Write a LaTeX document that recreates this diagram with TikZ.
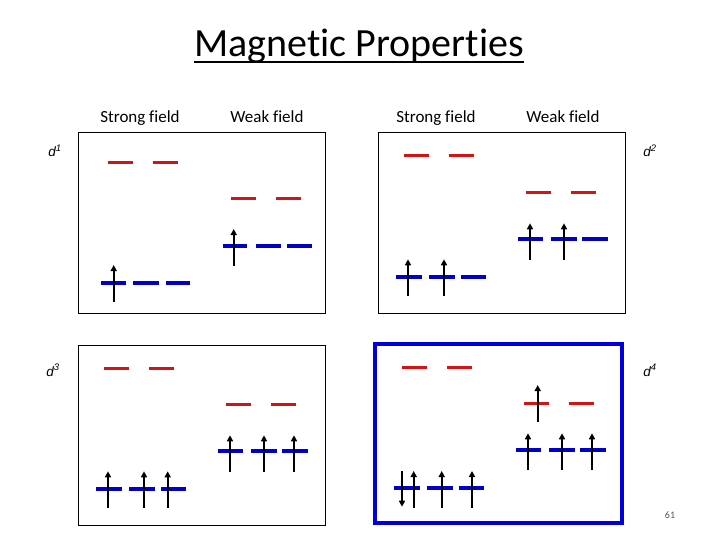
\documentclass[tikz,border=0pt]{standalone}
\usepackage{fontspec}
\setmainfont{Carlito}[Ligatures=NoCommon]
\newfontfamily\arialf{Liberation Sans}
\usetikzlibrary{arrows.meta,calc}
\tikzset{
  panel/.style={draw=black, line width=1pt},
  hipanel/.style={draw={rgb,255:red,0;green,0;blue,220}, line width=4pt},
  eg/.style={draw={rgb,255:red,210;green,20;blue,20}, line width=3pt},
  tg/.style={draw={rgb,255:red,0;green,0;blue,200}, line width=4pt},
  spin/.style={draw=black, line width=1.6pt, -{Triangle[length=6pt,width=6pt]}},
  hdr/.style={font=\fontsize{17}{20}\selectfont, anchor=base},
  dlab/.style={font=\arialf\itshape\fontsize{13.5}{15}\selectfont, anchor=base}
}
\begin{document}
\begin{tikzpicture}[x=1pt,y=-1pt]
\useasboundingbox (0,0) rectangle (720,540);
% title
\node[font=\fontsize{40}{44}\selectfont, anchor=base] (title) at (359,57) {Magnetic Properties};
\coordinate (ul1) at ($(title.base west)+(3,5)$);
\coordinate (ul2) at ($(title.base east)+(-3,5)$);
\draw[line width=1.5pt] (ul1) -- (ul2);
% headers
\node[hdr] (h1) at (140,123) {Strong field};
\node[hdr] (h2) at (267,123) {Weak field};
\node[hdr] (h3) at (436,123) {Strong field};
\node[hdr] (h4) at (563,123) {Weak field};
% d labels
\node[dlab] (d1) at (55,157) {d\textsuperscript{1}};
\node[dlab] (d2) at (650,157) {d\textsuperscript{2}};
\node[dlab] (d3) at (53,376) {d\textsuperscript{3}};
\node[dlab] (d4) at (650,376) {d\textsuperscript{4}};
% page number
\node[font=\fontsize{10}{12}\selectfont, text=gray!70!black] (pg) at (670,515) {61};
% panels
\draw[panel] (78,133) rectangle (325,313);
\draw[panel] (378,133) rectangle (625,313);
\draw[panel] (78,345) rectangle (325,525);
\draw[hipanel] (375,344) rectangle (622,523);

% ---- panel 1 : d1
\draw[eg] (108,162.7) -- (133,162.7);
\draw[eg] (153,162.7) -- (178,162.7);
\draw[eg] (231,199) -- (256,199);
\draw[eg] (276,199) -- (301,199);
\draw[tg] (101,283) -- (126,283);
\draw[tg] (133,283) -- (159,283);
\draw[tg] (166,283) -- (190,283);
\draw[tg] (223,245.7) -- (247,245.7);
\draw[tg] (256,245.7) -- (281,245.7);
\draw[tg] (287,245.7) -- (312,245.7);
\draw[spin] (113.7,301.7) -- (113.7,265);
\draw[spin] (233.7,265.7) -- (233.7,229);

% ---- panel 2 : d2
\draw[eg] (404,156) -- (429,156);
\draw[eg] (449,156) -- (474,156);
\draw[eg] (526,192.3) -- (551,192.3);
\draw[eg] (571,192.3) -- (596,192.3);
\draw[tg] (396,276.7) -- (422,276.7);
\draw[tg] (429,276.7) -- (455,276.7);
\draw[tg] (461,276.7) -- (486,276.7);
\draw[tg] (518,239.3) -- (543,239.3);
\draw[tg] (551,239.3) -- (577,239.3);
\draw[tg] (582,239.3) -- (608,239.3);
\draw[spin] (408,295.7) -- (408,259.3);
\draw[spin] (444,295.7) -- (444,259.3);
\draw[spin] (530,260) -- (530,223.3);
\draw[spin] (564,260) -- (564,223.3);

% ---- panel 3 : d3
\draw[eg] (104,368.3) -- (129,368.3);
\draw[eg] (149,368.3) -- (174,368.3);
\draw[eg] (226,404.3) -- (251,404.3);
\draw[eg] (271,404.3) -- (296,404.3);
\draw[tg] (96,489) -- (122,489);
\draw[tg] (129,489) -- (155,489);
\draw[tg] (161,489) -- (186,489);
\draw[tg] (218,451.3) -- (243,451.3);
\draw[tg] (251,451.3) -- (277,451.3);
\draw[tg] (282,451.3) -- (308,451.3);
\draw[spin] (108,507.7) -- (108,471.3);
\draw[spin] (144,507.7) -- (144,471.3);
\draw[spin] (167.7,507.7) -- (167.7,471.3);
\draw[spin] (230,472) -- (230,435.3);
\draw[spin] (264,472) -- (264,435.3);
\draw[spin] (294,472) -- (294,435.3);

% ---- panel 4 : d4
\draw[eg] (402,367.3) -- (427,367.3);
\draw[eg] (447,367.3) -- (472,367.3);
\draw[eg] (524,403.3) -- (549,403.3);
\draw[eg] (569,403.3) -- (594,403.3);
\draw[tg] (394,487.7) -- (420,487.7);
\draw[tg] (427,487.7) -- (453,487.7);
\draw[tg] (459,487.7) -- (484,487.7);
\draw[tg] (516,450.3) -- (541,450.3);
\draw[tg] (549,450.3) -- (575,450.3);
\draw[tg] (580,450.3) -- (606,450.3);
\draw[spin] (402,471) -- (402,506.7);
\draw[spin] (413.7,507.7) -- (413.7,471);
\draw[spin] (441.7,507.7) -- (441.7,471);
\draw[spin] (472,507.7) -- (472,471);
\draw[spin] (537.7,422) -- (537.7,385);
\draw[spin] (528,470) -- (528,433.3);
\draw[spin] (562,470) -- (562,433.3);
\draw[spin] (592,470) -- (592,433.3);
\end{tikzpicture}
\end{document}
